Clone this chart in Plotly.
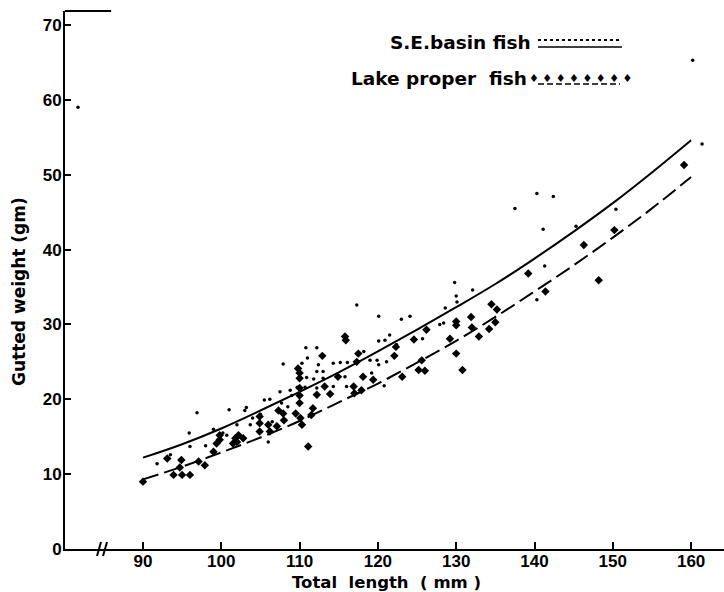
import plotly.graph_objects as go

# ---- data ----
curve_length = [90, 95, 100, 105, 110, 115, 120, 125, 130, 135, 140, 145, 150, 155, 160]
se_curve = [12.2, 14.0, 16.1, 18.5, 21.0, 23.6, 26.4, 29.3, 32.3, 35.4, 38.8, 42.4, 46.2, 50.3, 54.6]
lake_curve = [9.3, 11.0, 12.9, 14.9, 17.1, 19.6, 22.1, 24.9, 27.8, 31.0, 34.4, 37.9, 41.6, 45.5, 49.7]

se_length = [81.7, 91.8, 93.5, 95.9, 96.0, 96.9, 98.0, 99.0, 100.2, 100.7, 101.0, 102.0, 103.0,
             103.2, 103.7, 104.0, 105.0, 105.5, 106.2, 106.0, 106.5, 107.5, 107.7, 107.9, 108.5,
             108.8, 109.0, 109.7, 110.3, 110.8, 110.9, 110.7, 111.0, 111.8, 112.2, 112.4, 112.2,
             112.2, 113.0, 113.0, 114.3, 115.2, 116.1, 114.3, 115.8, 116.0, 117.3, 118.2, 119.0,
             119.9, 120.1, 119.2, 120.8, 121.1, 120.1, 120.9, 121.5, 122.4, 120.1, 123.0, 124.1,
             125.7, 127.9, 128.4, 128.6, 129.8, 130.0, 130.1, 132.1, 137.5, 140.3, 142.4, 141.1,
             145.3, 150.4, 141.3, 140.3, 161.4, 160.2]
se_weight = [59.0, 11.4, 12.6, 15.5, 13.7, 18.2, 13.8, 16.0, 15.5, 15.2, 18.6, 16.6, 18.5,
             18.9, 16.6, 17.5, 18.0, 19.9, 20.0, 14.3, 17.0, 21.0, 19.5, 24.7, 19.0,
             21.2, 20.5, 21.6, 24.8, 26.9, 22.9, 21.6, 25.5, 22.7, 26.9, 24.6, 21.5,
             23.7, 22.8, 23.7, 24.8, 24.9, 24.9, 21.7, 23.0, 21.7, 32.6, 26.4, 25.2,
             25.2, 24.6, 23.5, 21.8, 25.0, 27.8, 27.9, 28.6, 27.3, 31.1, 30.7, 31.1,
             28.1, 30.0, 30.2, 32.2, 35.6, 33.8, 33.0, 34.6, 45.5, 47.5, 47.1, 42.7,
             43.1, 45.4, 37.8, 33.3, 54.1, 65.3]

lake_length = [90.0, 93.1, 93.9, 95.0, 96.0, 94.9, 94.7, 97.1, 97.9, 99.0, 99.4, 99.8, 101.5,
               101.8, 99.8, 102.2, 102.0, 102.8, 104.9, 104.9, 104.9, 106.0, 106.2, 107.1,
               108.0, 107.3, 107.9, 109.5, 110.1, 110.3, 111.7, 111.5, 111.1, 109.8, 110.0,
               110.0, 110.0, 110.0, 110.0, 112.9, 112.2, 113.2, 113.9, 114.9, 115.8, 115.9,
               116.9, 117.0, 117.9, 117.5, 117.3, 118.1, 119.4, 122.1, 122.3, 123.1, 124.6,
               125.2, 126.0, 125.6, 126.2, 129.2, 130.0, 130.0, 130.0, 130.8, 131.9, 132.0,
               132.9, 134.2, 135.0, 134.5, 135.2, 139.2, 141.4, 146.3, 148.2, 150.2, 159.1]
lake_weight = [9.0, 12.1, 9.9, 9.9, 9.9, 11.9, 10.9, 11.7, 11.2, 13.0, 14.1, 14.6, 14.1,
               14.8, 15.2, 15.2, 14.3, 14.8, 17.7, 16.8, 15.7, 16.6, 15.7, 16.4,
               17.2, 18.5, 18.1, 18.1, 17.5, 16.6, 18.8, 17.9, 13.7, 24.1, 23.5,
               22.8, 21.5, 20.5, 19.5, 25.8, 20.6, 21.7, 20.7, 23.0, 28.4, 27.9,
               21.7, 20.8, 21.2, 26.1, 25.0, 23.0, 22.6, 25.8, 27.0, 23.0, 28.0,
               23.9, 23.8, 25.2, 29.3, 28.1, 30.4, 29.9, 26.1, 23.9, 31.0, 29.6,
               28.4, 29.4, 30.3, 32.7, 32.0, 36.8, 34.4, 40.6, 35.9, 42.6, 51.3]

x_ticks = [90, 100, 110, 120, 130, 140, 150, 160]
y_ticks = [0, 10, 20, 30, 40, 50, 60, 70]

x_title = "Total  length  ( mm )"
y_title = "Gutted weight (gm)"
se_label = "S.E.basin fish"
lake_label = "Lake proper  fish"

TITLE_FONT = dict(family="DejaVu Sans", size=17, color="black", weight="bold")
XTITLE_FONT = dict(family="DejaVu Sans", size=16.5, color="black", weight="bold")
TICK_FONT = dict(family="Liberation Sans", size=17, color="black", weight="bold")
LEG_FONT = dict(family="DejaVu Sans", size=18.5, color="black", weight="bold")

fig = go.Figure()

fig.add_trace(go.Scatter(x=curve_length, y=se_curve, mode="lines", line_shape="spline",
                         line=dict(color="black", width=2), showlegend=False, hoverinfo="skip"))
fig.add_trace(go.Scatter(x=curve_length, y=lake_curve, mode="lines", line_shape="spline",
                         line=dict(color="black", width=2, dash="16px,6px"),
                         showlegend=False, hoverinfo="skip"))
fig.add_trace(go.Scatter(x=se_length, y=se_weight, mode="markers",
                         marker=dict(color="black", size=3.5, symbol="circle"),
                         name=se_label, showlegend=False))
fig.add_trace(go.Scatter(x=lake_length, y=lake_weight, mode="markers",
                         marker=dict(color="black", size=6.5, symbol="diamond"),
                         name=lake_label, showlegend=False))

fig.update_layout(
    width=724, height=592,
    margin=dict(l=65, r=0, t=11, b=43),
    paper_bgcolor="white", plot_bgcolor="white",
    showlegend=False,
    xaxis=dict(range=[80.04, 164.2], tickvals=x_ticks, ticktext=[str(v) for v in x_ticks],
               showgrid=False, zeroline=False, showline=True, linecolor="black", linewidth=2,
               ticks="inside", ticklen=7, tickwidth=1.5, tickcolor="black",
               tickfont=TICK_FONT, ticklabelstandoff=-4),
    yaxis=dict(range=[0, 71.87], tickvals=y_ticks, ticktext=[str(v) for v in y_ticks],
               showgrid=False, zeroline=False, showline=True, linecolor="black", linewidth=2,
               ticks="inside", ticklen=6, tickwidth=1.5, tickcolor="black",
               tickfont=TICK_FONT, ticklabelstandoff=-2),
)

P = lambda px: (px - 65) / 659          # pixel -> paper x
Q = lambda py: (549 - py) / 538         # pixel -> paper y

annotations = [
    dict(text=x_title, x=P(386), y=Q(582), xref="paper", yref="paper",
         xanchor="center", yanchor="middle", showarrow=False, font=XTITLE_FONT, borderpad=0),
    dict(text=y_title, x=P(19), y=Q(292), xref="paper", yref="paper", textangle=-90,
         xanchor="center", yanchor="middle", showarrow=False, font=TITLE_FONT),
    dict(text=se_label, x=P(533), y=Q(42), xref="paper", yref="paper",
         xanchor="right", yanchor="middle", showarrow=False, font=LEG_FONT),
    dict(text=lake_label, x=P(529), y=Q(78), xref="paper", yref="paper",
         xanchor="right", yanchor="middle", showarrow=False, font=LEG_FONT),
    dict(text="\u2666 \u2666 \u2666 \u2666 \u2666 \u2666 \u2666 \u2666", x=P(580), y=Q(78),
         xref="paper", yref="paper", xanchor="center", yanchor="middle", showarrow=False,
         font=dict(family="DejaVu Sans", size=11, color="black")),
]
fig.update_layout(annotations=annotations)

shapes = [
    # legend samples
    dict(type="line", xref="paper", yref="paper", x0=P(538), x1=P(622), y0=Q(40), y1=Q(40),
         line=dict(color="black", width=2, dash="dot")),
    dict(type="line", xref="paper", yref="paper", x0=P(538), x1=P(622), y0=Q(47), y1=Q(47),
         line=dict(color="black", width=1.5)),
    dict(type="line", xref="paper", yref="paper", x0=P(538), x1=P(620), y0=Q(84), y1=Q(84),
         line=dict(color="black", width=1.5, dash="6px,3px")),
    # short top frame stub at the axis corner
    dict(type="line", xref="paper", yref="paper", x0=0, x1=0.07, y0=1.0, y1=1.0,
         line=dict(color="black", width=2)),
    # axis break marks
    dict(type="line", xref="paper", yref="paper", x0=P(97), x1=P(101), y0=Q(556), y1=Q(542),
         line=dict(color="black", width=2)),
    dict(type="line", xref="paper", yref="paper", x0=P(103), x1=P(107), y0=Q(556), y1=Q(542),
         line=dict(color="black", width=2)),
]
fig.update_layout(shapes=shapes)

# the page body has a default 8px margin; remove it so the chart fills the window exactly
fig.write_html("out.html", config={"displayModeBar": False},
               post_script="document.body.style.margin='0';")
